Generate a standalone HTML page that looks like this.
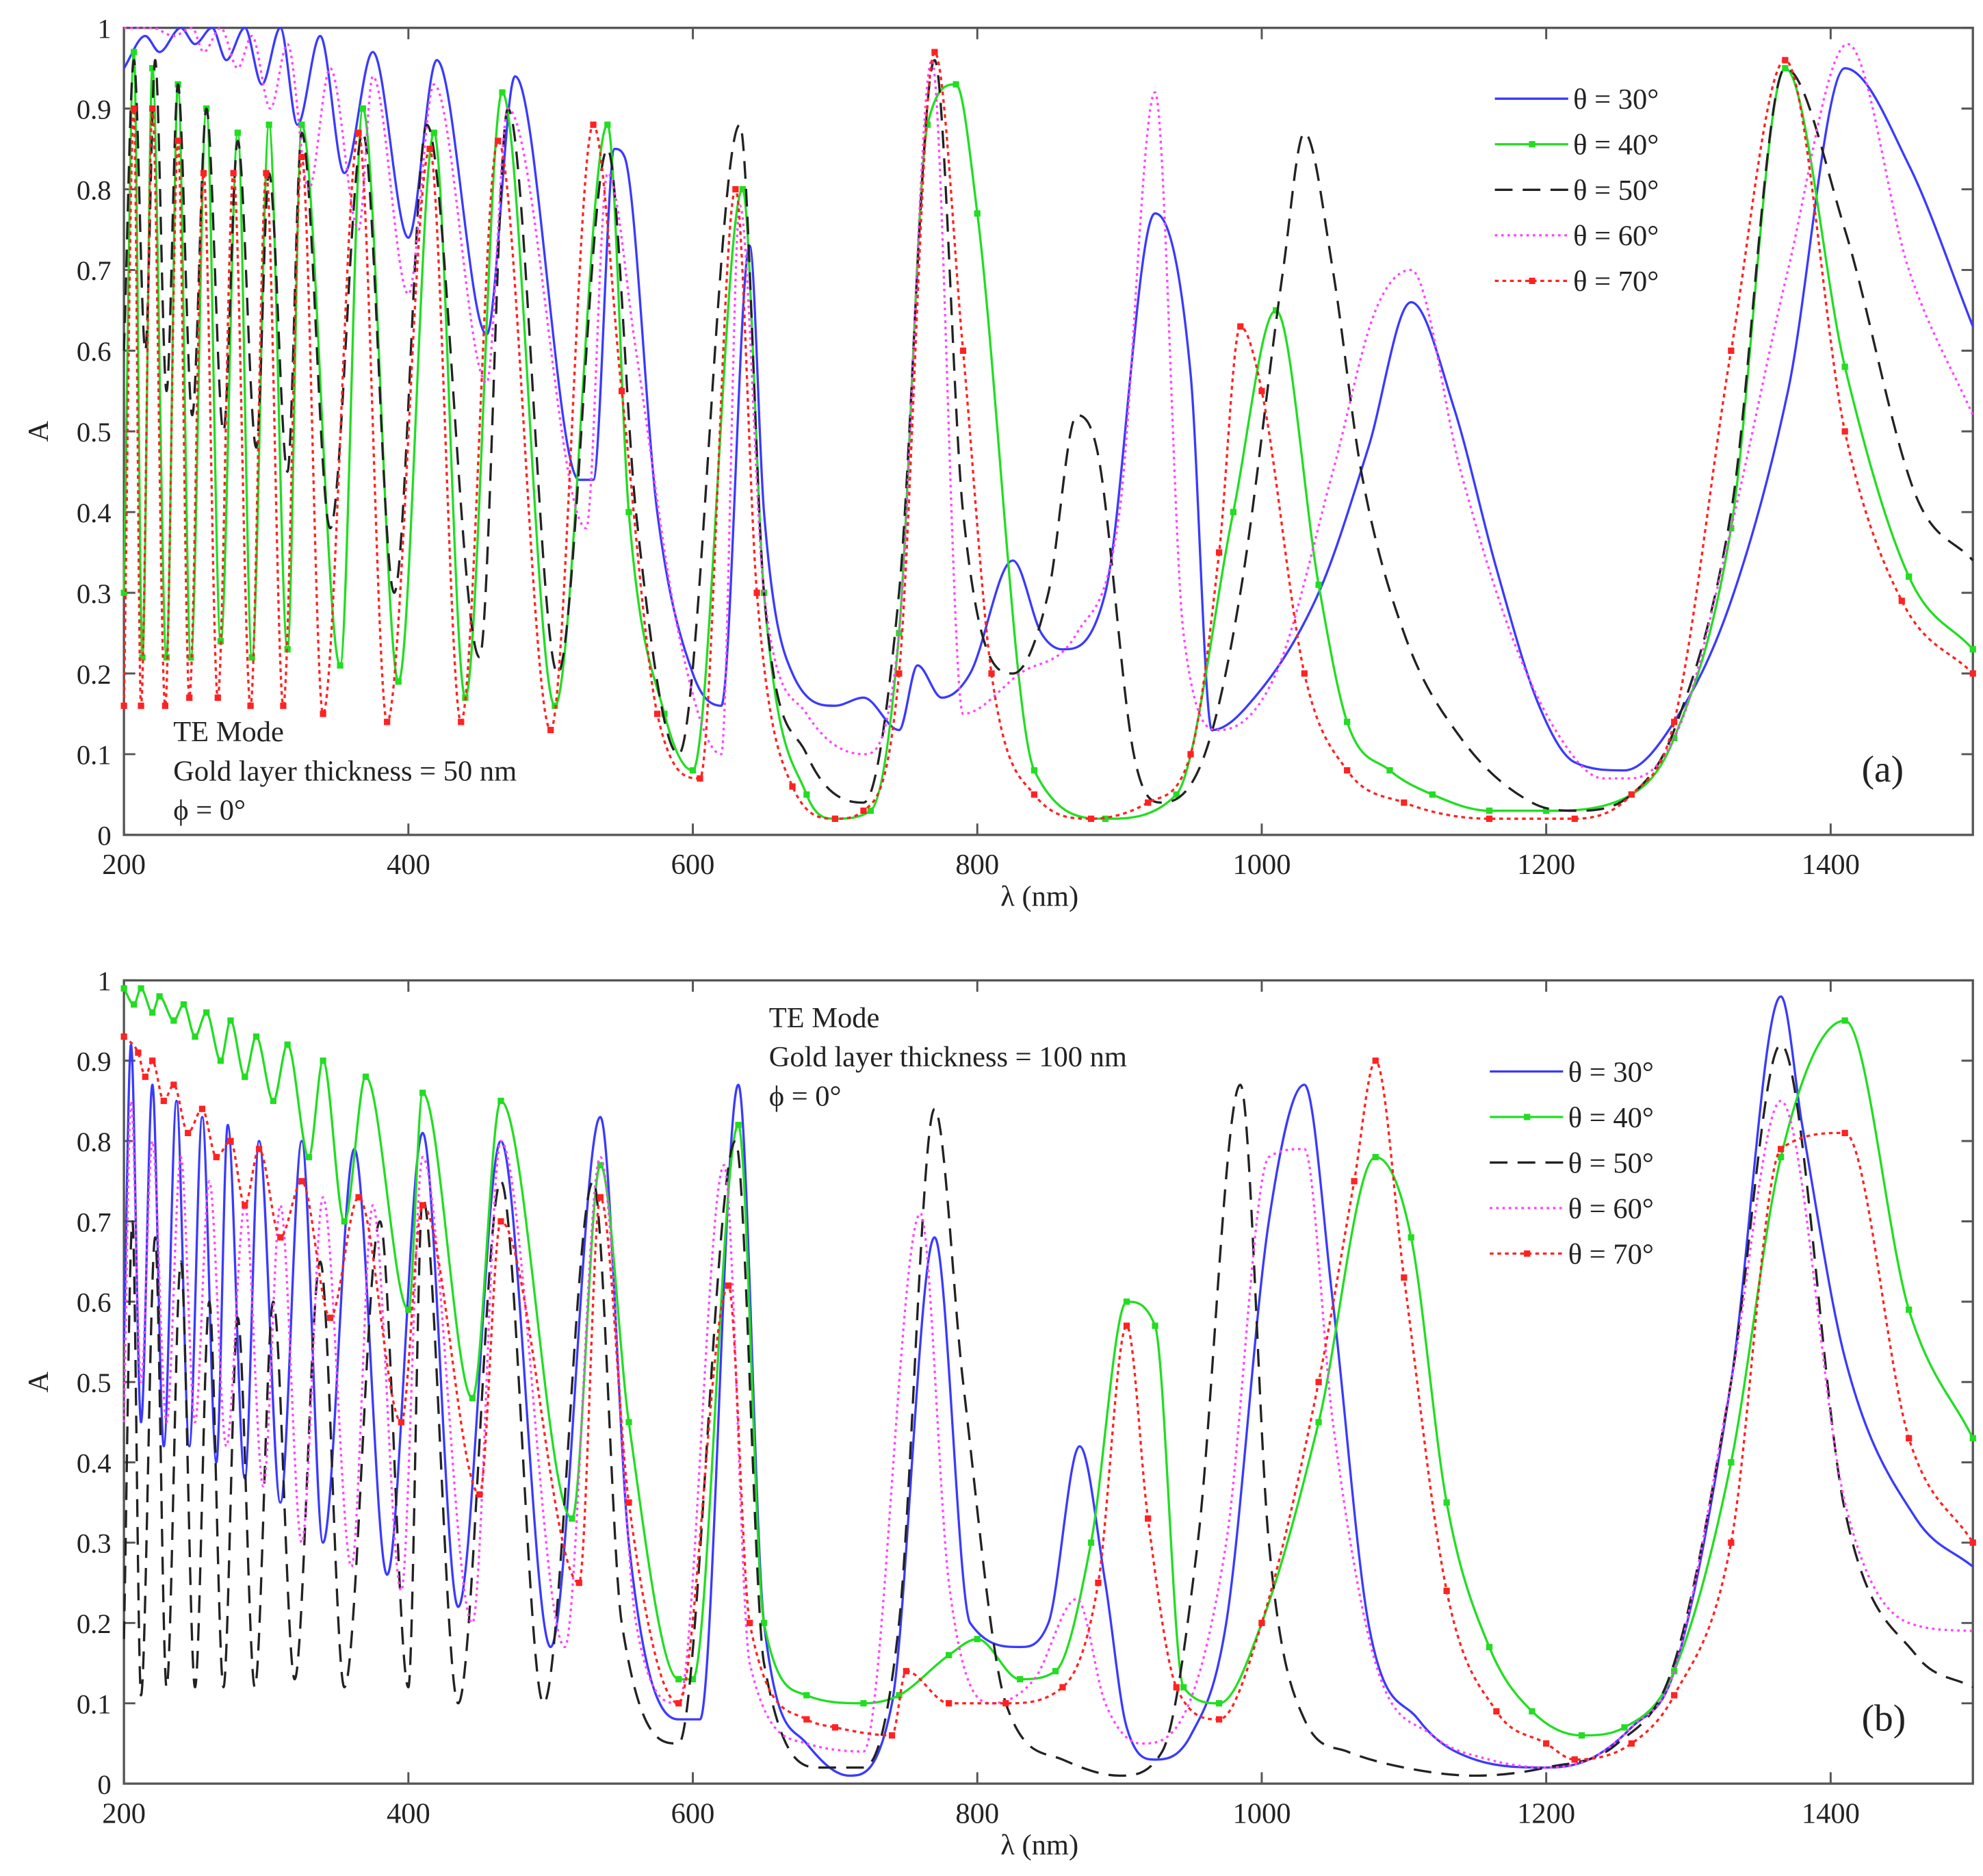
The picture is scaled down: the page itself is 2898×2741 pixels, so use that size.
<!DOCTYPE html>
<html><head><meta charset="utf-8"><style>
html,body{margin:0;padding:0;background:#fff}
svg{display:block}
text{font-family:"Liberation Serif",serif;fill:#222}
</style></head><body>
<svg id="chart" width="2898" height="2741" viewBox="0 0 1568 1483" xmlns="http://www.w3.org/2000/svg"></svg>
<script>
// ---- Panel (a) data: [wavelength nm, absorptance] ----
const a30 = [[200,.95],[215,.99],[225,.97],[240,1],[250,.98],[262,1],[272,.96],[285,1],[297,.93],[310,1],[322,.88],[338,.99],[355,.82],[375,.97],[400,.74],[420,.96],[455,.62],[475,.94],[520,.44],[530,.44],[545,.85],[552,.84],[575,.4],[600,.2],[620,.16],[640,.73],[650,.4],[670,.2],[700,.16],[720,.17],[745,.13],[758,.21],[775,.17],[795,.2],[825,.34],[845,.25],[860,.23],[890,.3],[925,.77],[950,.57],[965,.13],[990,.16],[1040,.3],[1075,.48],[1105,.66],[1135,.53],[1165,.33],[1195,.16],[1220,.09],[1255,.08],[1290,.14],[1330,.29],[1370,.55],[1410,.95],[1455,.83],[1500,.63]];
const a40 = [[200,.3],[207,.97],[213,.22],[220,.95],[230,.22],[238,.93],[247,.22],[258,.9],[268,.24],[280,.87],[290,.22],[302,.88],[315,.23],[325,.88],[352,.21],[368,.9],[393,.19],[418,.87],[440,.17],[466,.92],[503,.16],[540,.88],[555,.4],[580,.15],[600,.08],[635,.8],[650,.3],[680,.05],[700,.02],[725,.03],[745,.25],[765,.88],[785,.93],[800,.77],[840,.08],[890,.02],[940,.05],[980,.4],[1010,.65],[1040,.31],[1060,.14],[1090,.08],[1120,.05],[1160,.03],[1200,.03],[1260,.05],[1290,.12],[1330,.38],[1368,.95],[1410,.58],[1455,.32],[1500,.23]];
const a50 = [[200,.6],[207,.96],[215,.6],[222,.96],[230,.55],[238,.93],[248,.52],[258,.9],[270,.5],[280,.86],[293,.48],[302,.82],[315,.45],[325,.87],[345,.38],[368,.87],[390,.3],[413,.88],[450,.22],[470,.9],[505,.2],[540,.85],[560,.4],[590,.1],[633,.88],[650,.3],[680,.1],[720,.04],[745,.3],[770,.96],[790,.4],[825,.2],[850,.3],[870,.52],[885,.47],[910,.1],[930,.04],[960,.1],[985,.3],[1015,.7],[1030,.87],[1050,.7],[1070,.45],[1100,.25],[1140,.12],[1190,.04],[1220,.03],[1260,.05],[1290,.13],[1330,.4],[1368,.95],[1410,.75],[1460,.42],[1500,.34]];
const a60 = [[200,1],[220,1],[235,.99],[248,1],[256,.97],[268,1],[280,.95],[290,.99],[303,.9],[315,.98],[330,.8],[345,.95],[365,.75],[375,.94],[400,.67],[418,.93],[455,.56],[470,.9],[525,.38],[540,.82],[560,.6],[590,.25],[620,.1],[633,.78],[650,.3],[680,.15],[720,.1],[745,.25],[768,.96],[790,.15],[830,.2],[870,.25],[900,.4],[925,.92],[945,.25],[970,.13],[1010,.2],[1050,.45],[1080,.65],[1105,.7],[1140,.45],[1175,.25],[1210,.12],[1240,.07],[1260,.07],[1295,.14],[1330,.38],[1370,.7],[1412,.98],[1455,.7],[1500,.52]];
const a70 = [[200,.16],[207,.9],[212,.16],[220,.9],[229,.16],[238,.86],[246,.17],[256,.82],[266,.17],[277,.82],[289,.16],[300,.82],[312,.16],[325,.84],[340,.15],[365,.87],[385,.14],[415,.85],[437,.14],[463,.86],[500,.13],[530,.88],[550,.55],[575,.15],[605,.07],[630,.8],[645,.3],[670,.06],[700,.02],[720,.03],[745,.2],[770,.97],[790,.6],[810,.2],[840,.05],[880,.02],[920,.04],[950,.1],[970,.35],[985,.63],[1000,.55],[1030,.2],[1060,.08],[1100,.04],[1160,.02],[1220,.02],[1260,.05],[1290,.14],[1330,.6],[1368,.96],[1410,.5],[1450,.29],[1500,.2]];
// ---- Panel (b) data ----
const b30 = [[200,.55],[205,.92],[212,.45],[220,.87],[228,.42],[237,.85],[246,.42],[255,.83],[265,.4],[273,.82],[285,.38],[295,.8],[310,.35],[325,.8],[340,.3],[362,.79],[385,.26],[410,.81],[435,.22],[465,.8],[500,.17],[535,.83],[555,.3],[590,.08],[605,.08],[632,.87],[650,.2],[680,.05],[710,.01],[740,.1],[770,.68],[795,.2],[830,.17],[850,.2],[872,.42],[890,.25],[905,.07],[925,.03],[950,.06],[975,.2],[1005,.7],[1030,.87],[1050,.6],[1075,.2],[1110,.08],[1150,.03],[1200,.02],[1230,.03],[1260,.07],[1290,.14],[1330,.5],[1365,.98],[1380,.82],[1410,.53],[1460,.33],[1500,.27]];
const b40 = [[200,.99],[207,.97],[212,.99],[220,.96],[225,.98],[235,.95],[242,.97],[250,.93],[258,.96],[268,.9],[275,.95],[285,.88],[293,.93],[305,.85],[315,.92],[330,.78],[340,.9],[355,.7],[370,.88],[400,.59],[410,.86],[445,.48],[465,.85],[515,.33],[535,.77],[555,.45],[590,.13],[600,.13],[632,.82],[650,.2],[680,.11],[720,.1],[745,.11],[780,.16],[800,.18],[830,.13],[855,.14],[880,.3],[905,.6],[925,.57],[945,.12],[970,.1],[1000,.2],[1040,.45],[1080,.78],[1105,.68],[1130,.35],[1160,.17],[1190,.09],[1225,.06],[1255,.07],[1290,.14],[1330,.4],[1365,.78],[1410,.95],[1455,.59],[1500,.43]];
const b50 = [[200,.18],[206,.7],[212,.11],[222,.68],[230,.12],[240,.65],[250,.12],[260,.6],[270,.12],[280,.58],[292,.12],[305,.6],[320,.13],[338,.65],[355,.12],[380,.7],[400,.12],[410,.73],[435,.1],[465,.75],[495,.1],[530,.75],[550,.2],[590,.05],[630,.8],[650,.15],[690,.02],[720,.02],[745,.2],[770,.84],[790,.5],[820,.1],[860,.03],[900,.01],[930,.04],[955,.3],[985,.87],[1005,.3],[1030,.08],[1060,.04],[1100,.02],[1150,.01],[1200,.02],[1250,.05],[1290,.15],[1330,.5],[1365,.92],[1410,.34],[1460,.16],[1500,.12]];
const b60 = [[200,.45],[205,.85],[212,.5],[220,.8],[230,.45],[240,.78],[250,.45],[260,.75],[272,.42],[285,.72],[298,.37],[310,.72],[325,.3],[340,.73],[360,.27],[375,.72],[395,.24],[410,.78],[445,.2],[465,.8],[510,.17],[535,.78],[560,.2],[590,.1],[622,.77],[640,.15],[680,.05],[720,.04],[760,.71],[780,.25],[810,.1],[840,.13],[870,.23],[890,.1],[915,.05],[940,.07],[975,.3],[1005,.78],[1030,.79],[1050,.45],[1080,.15],[1120,.06],[1160,.03],[1200,.02],[1230,.03],[1260,.07],[1290,.14],[1330,.5],[1365,.85],[1410,.35],[1455,.2],[1500,.19]];
const b70 = [[200,.93],[210,.91],[215,.88],[220,.9],[228,.85],[235,.87],[245,.81],[255,.84],[265,.78],[275,.8],[285,.72],[295,.79],[310,.68],[325,.75],[345,.58],[365,.73],[395,.45],[410,.72],[450,.36],[465,.7],[520,.25],[535,.73],[555,.35],[590,.1],[625,.62],[640,.2],[680,.08],[700,.07],[740,.06],[750,.14],[780,.1],[820,.1],[860,.12],[885,.25],[905,.57],[920,.33],[940,.12],[970,.08],[1000,.2],[1040,.5],[1065,.75],[1080,.9],[1100,.63],[1130,.24],[1165,.09],[1200,.05],[1220,.03],[1260,.05],[1290,.11],[1330,.3],[1365,.79],[1410,.81],[1455,.43],[1500,.3]];
const xTicks = [200,400,600,800,1000,1200,1400];
const yTicks = [0,0.1,0.2,0.3,0.4,0.5,0.6,0.7,0.8,0.9,1];
const yTickLabels = ["0","0.1","0.2","0.3","0.4","0.5","0.6","0.7","0.8","0.9","1"];
const legendLabels = ["θ = 30°","θ = 40°","θ = 50°","θ = 60°","θ = 70°"];

const NS="http://www.w3.org/2000/svg";
const svg=document.getElementById('chart');
const X0=98,X1=1560;
function xs(l){return X0+(l-200)/(1500-200)*(X1-X0);}
function mk(tag,attrs,parent){const e=document.createElementNS(NS,tag);for(const k in attrs)e.setAttribute(k,attrs[k]);(parent||svg).appendChild(e);return e;}
// monotone cubic path through screen points
function smoothPath(P){
 const n=P.length;const d=[],m=[];
 for(let i=0;i<n-1;i++){d.push((P[i+1][1]-P[i][1])/(P[i+1][0]-P[i][0]));}
 m[0]=d[0];m[n-1]=d[n-2];
 for(let i=1;i<n-1;i++){m[i]=(d[i-1]*d[i]<=0)?0:(d[i-1]+d[i])/2;}
 for(let i=0;i<n-1;i++){if(d[i]===0){m[i]=0;m[i+1]=0;continue;}const a=m[i]/d[i],b=m[i+1]/d[i],s=a*a+b*b;if(s>9){const t=3/Math.sqrt(s);m[i]=t*a*d[i];m[i+1]=t*b*d[i];}}
 let s='M'+P[0][0].toFixed(1)+','+P[0][1].toFixed(1);
 for(let i=0;i<n-1;i++){const h=(P[i+1][0]-P[i][0])/3;
  s+='C'+(P[i][0]+h).toFixed(1)+','+(P[i][1]+m[i]*h).toFixed(1)+' '+(P[i+1][0]-h).toFixed(1)+','+(P[i+1][1]-m[i+1]*h).toFixed(1)+' '+P[i+1][0].toFixed(1)+','+P[i+1][1].toFixed(1);}
 return s;
}
const styles=[
 {stroke:"#3a3aff",dash:"",marker:false},
 {stroke:"#22dd22",dash:"",marker:true},
 {stroke:"#222",dash:"14,8",marker:false},
 {stroke:"#ff44ff",dash:"2,3",marker:false},
 {stroke:"#ff2222",dash:"3,3",marker:true}];
function panel(id,top,bot,series,leg,annot,tag){
 const g=mk('g',{});
 
 
 const ys=v=>bot-v*(bot-top);
 const frame=mk('rect',{x:X0,y:top,width:X1-X0,height:bot-top,fill:'none',stroke:'#555','stroke-width':1.8},g);
 
 
 xTicks.forEach(t=>{
  const x=xs(t);
  mk('line',{x1:x,y1:bot,x2:x,y2:bot-9,stroke:'#555','stroke-width':1.6},g);
  mk('line',{x1:x,y1:top,x2:x,y2:top+9,stroke:'#555','stroke-width':1.6},g);
  const tx=mk('text',{x:x,y:bot+31,'font-size':23,'text-anchor':'middle'},g);
  tx.textContent=t;
  
  
 });
 yTicks.forEach((t,i)=>{
  const y=ys(t);
  mk('line',{x1:X0,y1:y,x2:X0+9,y2:y,stroke:'#555','stroke-width':1.6},g);
  mk('line',{x1:X1,y1:y,x2:X1-9,y2:y,stroke:'#555','stroke-width':1.6},g);
  const tx=mk('text',{x:88,y:y+8,'font-size':22,'text-anchor':'end'},g);
  tx.textContent=yTickLabels[i];
  
  
 });
 const xl=mk('text',{x:822,y:bot+56,'font-size':23,'text-anchor':'middle'},g);
 xl.textContent='λ (nm)';
 
 
 const yl=mk('text',{x:38,y:(top+bot)/2,'font-size':23,'text-anchor':'middle',transform:`rotate(-90 38 ${(top+bot)/2})`},g);
 yl.textContent='A';
 
 
 series.forEach((s,i)=>{
  const st=styles[i];
  const pts=s.map(p=>[xs(p[0]),ys(p[1])]);
  const p=mk('path',{d:smoothPath(pts),fill:'none',stroke:st.stroke,'stroke-width':1.8,'stroke-dasharray':st.dash},g);
  
  
  if(st.marker){s.forEach(q=>{const c=mk('rect',{x:xs(q[0])-2.5,y:ys(q[1])-2.5,width:5,height:5,fill:st.stroke},g);
   
   });}
 });
 legendLabels.forEach((lab,i)=>{
  const st=styles[i];const y=leg.y+i*36;
  const ln=mk('line',{x1:leg.x,y1:y,x2:leg.x+58,y2:y,stroke:st.stroke,'stroke-width':1.8,'stroke-dasharray':st.dash},g);
  
  
  if(st.marker){mk('rect',{x:leg.x+27,y:y-2.5,width:5,height:5,fill:st.stroke},g);}
  const t=mk('text',{x:leg.x+62,y:y+8,'font-size':23},g);
  t.textContent=lab;
  
  
 });
 annot.lines.forEach((s,i)=>{
  const t=mk('text',{x:annot.x,y:annot.y+i*31,'font-size':23},g);
  t.textContent=s;
  
  
 });
 const pt=mk('text',{x:1472,y:bot-42,'font-size':30},g);
 pt.textContent=tag;
 
 
}
panel('a',22,660,[a30,a40,a50,a60,a70],{x:1182,y:78},{x:137,y:586,lines:['TE Mode','Gold layer thickness = 50 nm','ϕ = 0°']},'(a)');
panel('b',775,1410,[b30,b40,b50,b60,b70],{x:1178,y:847},{x:608,y:812,lines:['TE Mode','Gold layer thickness = 100 nm','ϕ = 0°']},'(b)');
</script>
</body></html>
